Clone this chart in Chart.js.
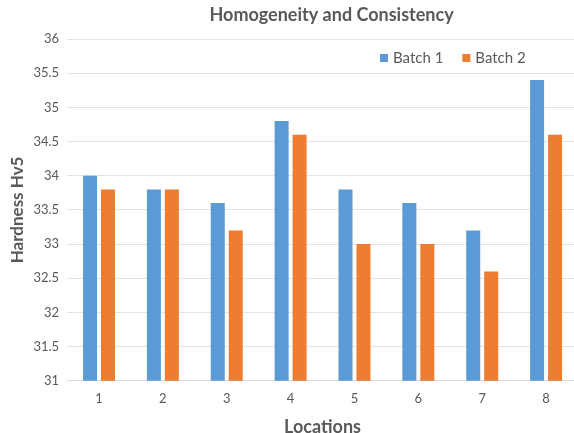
<!DOCTYPE html>
<html>
<head>
<meta charset="utf-8">
<script src="https://cdn.jsdelivr.net/npm/chart.js@4.4.0/dist/chart.umd.min.js"></script>
<style>
  html, body { margin: 0; padding: 0; background: #fff; overflow: hidden; }
  #wrap { width: 580px; height: 433px; }
</style>
</head>
<body>
<div id="wrap"><canvas id="chart1"></canvas></div>
<script>
var locations = ['1', '2', '3', '4', '5', '6', '7', '8'];
var batch1 = [34.0, 33.8, 33.6, 34.8, 33.8, 33.6, 33.2, 35.4];
var batch2 = [33.8, 33.8, 33.2, 34.6, 33.0, 33.0, 32.6, 34.6];
var yMin = 31, yMax = 36, yStep = 0.5;
var chartTitle = 'Homogeneity and Consistency';

var grey = '#595959';

// title and legend drawn by hand, the original is cropped on the right
var titleAndLegend = {
    id: 'titleAndLegend',
    afterDraw: function(chart) {
        var ctx = chart.ctx;
        var area = chart.chartArea;
        var sets = chart.data.datasets;
        ctx.save();
        ctx.textBaseline = 'middle';

        ctx.font = 'bold 18px Lato';
        ctx.fillStyle = grey;
        ctx.textAlign = 'center';
        ctx.fillText(chartTitle, (area.left + area.right) / 2 + 9, 15);

        ctx.font = '15px Lato';
        ctx.textAlign = 'left';
        var x = area.right - 198;
        var y = area.top + 19;
        for (var i = 0; i < sets.length; i++) {
            ctx.fillStyle = sets[i].backgroundColor;
            ctx.fillRect(x, y - 4, 8, 8);
            ctx.fillStyle = grey;
            ctx.fillText(sets[i].label, x + 13, y);
            x += 13 + ctx.measureText(sets[i].label).width + 19;
        }
        ctx.restore();
    }
};

new Chart(document.getElementById('chart1'), {
    type: 'bar',
    data: {
        labels: locations,
        datasets: [{
            label: 'Batch 1',
            data: batch1,
            backgroundColor: '#5B9BD5',
            categoryPercentage: 0.5625,
            barPercentage: 0.78
        }, {
            label: 'Batch 2',
            data: batch2,
            backgroundColor: '#ED7D31',
            categoryPercentage: 0.5625,
            barPercentage: 0.78
        }]
    },
    plugins: [titleAndLegend],
    options: {
        responsive: true,
        maintainAspectRatio: false,
        animation: false,
        layout: { padding: { left: 7, right: 2, top: 39, bottom: 0 } },
        plugins: {
            title: { display: false },
            legend: { display: false },
            tooltip: { enabled: false }
        },
        scales: {
            x: {
                grid: { display: false, drawTicks: false },
                border: { color: '#d9d9d9' },
                ticks: { color: grey, font: { family: 'Lato', size: 13 }, padding: 10 },
                title: {
                    display: true,
                    text: 'Locations',
                    color: grey,
                    font: { family: 'Lato', size: 18, weight: 'bold' },
                    padding: { top: 0, bottom: -5 }
                }
            },
            y: {
                min: yMin,
                max: yMax,
                grid: { color: '#e3e3e3', drawTicks: false },
                border: { display: false },
                ticks: {
                    stepSize: yStep,
                    color: grey,
                    font: { family: 'Lato', size: 13 },
                    padding: 8,
                    callback: function(v) { return String(v); }
                },
                title: {
                    display: true,
                    text: 'Hardness Hv5',
                    color: grey,
                    font: { family: 'Lato', size: 17, weight: 'bold' },
                    padding: { top: 0, bottom: -2 }
                }
            }
        }
    }
});
</script>
</body>
</html>
